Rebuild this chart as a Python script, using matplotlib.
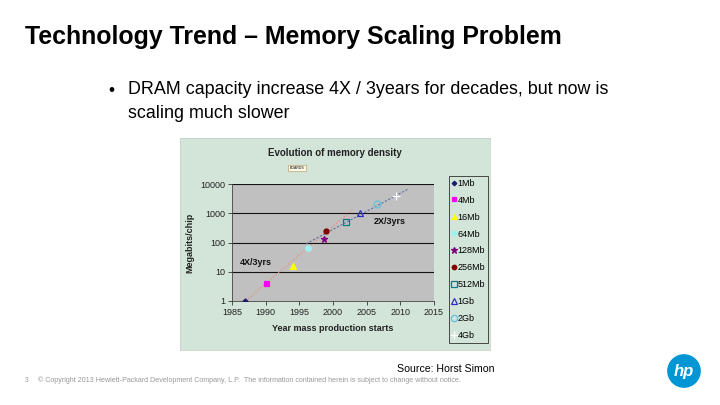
import matplotlib
matplotlib.use("Agg")
import matplotlib.pyplot as plt
from matplotlib.patches import Circle

plt.rcParams['font.family'] = ['Liberation Sans', 'DejaVu Sans']

# ---- data ----
labels = ["1Mb", "4Mb", "16Mb", "64Mb", "128Mb", "256Mb", "512Mb", "1Gb", "2Gb", "4Gb"]
years = [1987, 1990, 1994, 1996.3, 1998.7, 1999, 2002, 2004, 2006.5, 2009.3]
mbits = [1, 4, 16, 64, 128, 256, 512, 1000, 2000, 4000]
trend4x_years = [1987, 2003]
trend4x_vals = [1, 1400]
trend2x_years = [1996, 2011.2]
trend2x_vals = [90, 6800]
xticks = [1985, 1990, 1995, 2000, 2005, 2010, 2015]
yticks = [1, 10, 100, 1000, 10000]

markers = ['D', 's', '^', 'o', '*', 'o', 's', '^', 'o', '+']
faces = ['#1a1a6e', '#ff00ff', '#ffff00', '#a0f0f0', '#800080', '#800000', 'none', 'none', 'none', '#ffffff']
edges = ['#1a1a6e', '#ff00ff', '#ffff00', '#a0f0f0', '#800080', '#800000', '#008080', '#3030c0', '#60c0e0', '#ffffff']
sizes = [2.6, 3.6, 4.0, 4.0, 5.0, 3.6, 5.0, 5.0, 5.0, 6.0]

W, H = 720, 405
fig = plt.figure(figsize=(7.2, 4.05), dpi=100)
fig.patch.set_facecolor('white')

def fx(x):
    return x / W

def fy(y):
    return 1 - y / H

# slide text
fig.text(fx(25), fy(37), "Technology Trend \u2013 Memory Scaling Problem", fontsize=17.9,
         fontweight='bold', va='center', ha='left', color='black')
fig.text(fx(108), fy(90), "\u2022", fontsize=12.5, va='center', ha='left')
fig.text(fx(128), fy(90), "DRAM capacity increase 4X / 3years for decades, but now is",
         fontsize=12.9, va='center', ha='left')
fig.text(fx(128), fy(113), "scaling much slower", fontsize=12.9, va='center', ha='left')
fig.text(fx(397), fy(369), "Source: Horst Simon", fontsize=7.6, va='center', ha='left')
fig.text(fx(25), fy(380), "3", fontsize=4.8, va='center', ha='left', color='#999999')
fig.text(fx(38), fy(380), "\u00a9 Copyright 2013 Hewlett-Packard Development Company, L.P.  The information contained herein is subject to change without notice.",
         fontsize=5.1, va='center', ha='left', color='#999999')

# HP logo
logo = fig.add_axes([fx(667), fy(388), fx(34), 34 / H])
logo.set_xlim(-1, 1)
logo.set_ylim(-1, 1)
logo.set_aspect('equal')
logo.axis('off')
logo.add_patch(Circle((0, 0), 0.95, color='#0096d6'))
logo.text(0, -0.02, "hp", color='white', fontsize=12, fontweight='bold', fontstyle='italic',
          ha='center', va='center')

# chart background panel
bg = fig.add_axes([fx(180), fy(350), fx(310), 212 / H], zorder=0)
bg.set_facecolor('#d3e5d9')
bg.set_xticks([])
bg.set_yticks([])
for s in bg.spines.values():
    s.set_color('#c4d4c8')
    s.set_linewidth(0.6)

fig.text(fx(335), fy(153), "Evolution of memory density", fontsize=7, fontweight='bold',
         ha='center', va='center', color='#222222', zorder=5)
fig.text(fx(297), fy(168), "BOARDS", fontsize=2.5, ha='center', va='center', zorder=5,
         bbox=dict(boxstyle='square,pad=0.4', facecolor='#fffbe8', edgecolor='#c0a070', linewidth=0.5))

ax = fig.add_axes([fx(232), fy(301), fx(202), (301 - 184) / H], zorder=2)
ax.set_facecolor('#c0c0c0')
ax.set_yscale('log')
ax.set_xlim(1985, 2015)
ax.set_ylim(1, 10000)
ax.set_xticks(xticks)
ax.set_xticklabels([str(t) for t in xticks])
ax.set_yticks(yticks)
ax.set_yticklabels([str(t) for t in yticks])
ax.minorticks_off()
ax.tick_params(labelsize=6.5, length=3, width=0.6, color='#333333', labelcolor='#222222', pad=2)
for yv in yticks[1:]:
    ax.axhline(yv, color='#111111', linewidth=0.8, zorder=1)
for s in ['top', 'right']:
    ax.spines[s].set_visible(False)
ax.spines['left'].set_color('#444444')
ax.spines['bottom'].set_color('#444444')
ax.spines['left'].set_linewidth(0.6)
ax.spines['bottom'].set_linewidth(0.6)

ax.plot(trend4x_years, trend4x_vals, linestyle=':', color='#e88a80', linewidth=0.9, zorder=2)
ax.plot(trend2x_years, trend2x_vals, linestyle='--', color='#6070a0', linewidth=0.8, zorder=2,
        dashes=(2, 1.5))

for i, lab in enumerate(labels):
    ax.plot([years[i]], [mbits[i]], linestyle='none', marker=markers[i], markersize=sizes[i],
            markerfacecolor=faces[i], markeredgecolor=edges[i], markeredgewidth=0.9,
            label=lab, zorder=3)

ax.text(1986.2, 21, "4X/3yrs", fontsize=6.5, fontweight='bold', ha='left', va='center', color='#111111')
ax.text(2006.0, 520, "2X/3yrs", fontsize=6.5, fontweight='bold', ha='left', va='center', color='#111111')

ax.set_ylabel("Megabits/chip", fontsize=6.5, fontweight='bold', labelpad=4, color='#222222')
ax.set_xlabel("Year mass production starts", fontsize=6.5, fontweight='bold', labelpad=5, color='#222222')

leg = ax.legend(loc='upper left', bbox_to_anchor=(fx(449), fy(176)), bbox_transform=fig.transFigure,
                fontsize=6.5, frameon=True, labelspacing=0.88, handlelength=0.45, handletextpad=0.2,
                borderpad=0.3, borderaxespad=0, fancybox=False, markerscale=0.9)
leg.get_frame().set_facecolor('#d3e5d9')
leg.get_frame().set_edgecolor('#222222')
leg.get_frame().set_linewidth(0.7)

fig.savefig("out.png", dpi=100)
